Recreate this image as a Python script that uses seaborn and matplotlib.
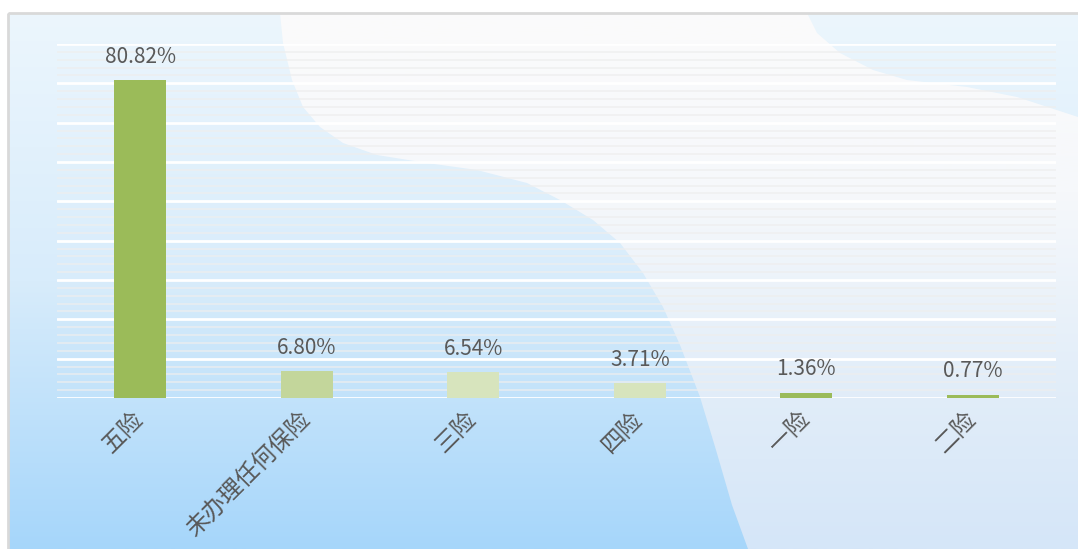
import numpy as np
import pandas as pd
import matplotlib
matplotlib.use('Agg')
import matplotlib.pyplot as plt
from matplotlib.patches import Polygon, Rectangle
from matplotlib.colors import LinearSegmentedColormap
import seaborn as sns

# data
categories = ['五险', '未办理任何保险', '三险', '四险', '一险', '二险']
values = [80.82, 6.80, 6.54, 3.71, 1.36, 0.77]
bar_colors = ['#9BBB59', '#C3D69B', '#D7E4BD', '#D7E4BD', '#9BBB59', '#9BBB59']

df = pd.DataFrame({'类型': categories, '比例': values})

sns.set_style('white')
plt.rcParams['font.family'] = ['Noto Sans CJK SC', 'DejaVu Sans']
plt.rcParams['axes.unicode_minus'] = False

W, H = 1078, 549
fig = plt.figure(figsize=(W / 100, H / 100), dpi=100)
fig.patch.set_facecolor('white')

# background panel (pixel coordinates)
bg = fig.add_axes([0, 0, 1, 1], zorder=0)
bg.set_xlim(0, W)
bg.set_ylim(H, 0)
bg.axis('off')

grad = np.linspace(0, 1, 256).reshape(-1, 1)
blue_cmap = LinearSegmentedColormap.from_list('bgblue', ['#ECF6FD', '#D8ECFB', '#A6D6FA'])
bg.imshow(grad, cmap=blue_cmap, extent=(8, W, H, 13), aspect='auto', zorder=0)

# white wave shape
left_edge = [(280, 13), (283, 43), (292, 80), (303, 107), (320, 127), (343, 143),
             (377, 155), (427, 163), (477, 170), (527, 183), (560, 200), (593, 220),
             (620, 243), (643, 273), (663, 307), (680, 345), (700, 397), (716, 450),
             (732, 505), (748, 549)]
right_edge = [(1078, 549), (1078, 117), (1017, 97), (967, 87), (907, 80), (873, 70),
              (840, 53), (817, 33), (807, 13)]
wave = Polygon(left_edge + right_edge, closed=True, facecolor='none', edgecolor='none')
bg.add_patch(wave)
white_cmap = LinearSegmentedColormap.from_list('bgwhite', ['#FBFBFB', '#F6F8FB', '#E3EEF9', '#D5E6F8'])
im = bg.imshow(grad, cmap=white_cmap, extent=(8, W, H, 13), aspect='auto', zorder=1)
im.set_clip_path(wave)

# frame
bg.add_patch(Rectangle((8, 13), W, H, facecolor='none', edgecolor='#D9D9D9', lw=2, zorder=2))

# main chart
ax = fig.add_axes([57 / W, (H - 398) / H, (1056 - 57) / W, (398 - 44) / H], zorder=1)
ax.set_facecolor('none')

ax.set_ylim(0, 90)
ax.set_yticks(np.arange(0, 91, 10))
ax.set_yticks(np.arange(0, 91, 2), minor=True)
ax.grid(True, which='minor', axis='y', color='#EEEEEE', lw=1.2, alpha=0.8, zorder=0)
ax.grid(True, which='major', axis='y', color='white', lw=2, zorder=0)
ax.set_axisbelow(True)

sns.barplot(data=df, x='类型', y='比例', hue='类型', palette=bar_colors,
            legend=False, width=0.31, saturation=1, linewidth=0, ax=ax)
ax.set_xlim(-0.5, 5.5)

for c in ax.containers:
    ax.bar_label(c, fmt='%.2f%%', padding=9, fontsize=15, color='#595959')

ax.set_xlabel('')
ax.set_ylabel('')
ax.tick_params(axis='x', length=0, pad=13, labelsize=17, labelcolor='#595959')
ax.tick_params(axis='y', left=False, labelleft=False)
plt.setp(ax.get_xticklabels(), rotation=45, ha='right', va='center', rotation_mode='anchor')
sns.despine(ax=ax, left=True, bottom=True)

fig.savefig('out.png', dpi=100)
